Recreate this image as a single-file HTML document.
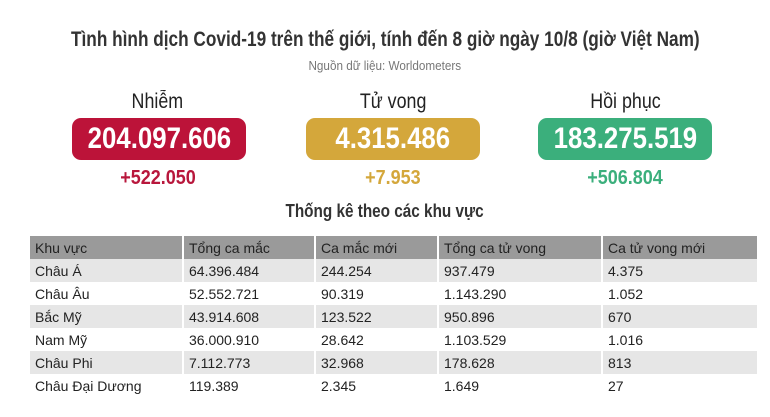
<!DOCTYPE html>
<html><head><meta charset="utf-8"><style>
body{margin:0;width:770px;height:417px;background:#fff;font-family:"Liberation Sans",sans-serif;color:#333;position:relative;overflow:hidden}
.a{position:absolute;white-space:nowrap;text-align:center}
.t{left:0;width:770px}
.s{display:inline-block}
.box{position:absolute;top:118px;height:42px;border-radius:9px;color:#fff;font-weight:bold;font-size:30px;line-height:42px;text-align:center}
table{position:absolute;left:30px;top:236px;width:727px;border-collapse:collapse;font-size:14px}
td{height:23px;padding:0 0 0 5px;border-left:2px solid #fff;color:#222}
td:first-child{border-left:none}
tr.h td{background:#9a9a9a;color:#222}
tr.g td{background:#e6e6e6}
</style></head><body>
<div class="a t" style="top:28px;font-size:21px;font-weight:bold;color:#333"><span class="s" style="transform:scaleX(0.82)">Tình hình dịch Covid-19 trên thế giới, tính đến 8 giờ ngày 10/8 (giờ Việt Nam)</span></div>
<div class="a t" style="top:58px;font-size:13px;color:#777"><span class="s" style="transform:scaleX(0.9)">Nguồn dữ liệu: Worldometers</span></div>
<div class="a" style="left:70px;width:175px;top:90px;font-size:21px;color:#222"><span class="s" style="transform:scaleX(0.85)">Nhiễm</span></div>
<div class="a" style="left:306px;width:174px;top:90px;font-size:21px;color:#222"><span class="s" style="transform:scaleX(0.85)">Tử vong</span></div>
<div class="a" style="left:538px;width:174px;top:90px;font-size:21px;color:#222"><span class="s" style="transform:scaleX(0.85)">Hồi phục</span></div>
<div class="box" style="left:72px;width:174px;background:#bc1339"><span class="s" style="transform:scaleX(0.86)">204.097.606</span></div>
<div class="box" style="left:306px;width:174px;background:#d4a73b"><span class="s" style="transform:scaleX(0.86)">4.315.486</span></div>
<div class="box" style="left:538px;width:174px;background:#3baf7c"><span class="s" style="transform:scaleX(0.86)">183.275.519</span></div>
<div class="a" style="left:70px;width:175px;top:167px;font-size:20px;font-weight:bold;color:#b8173c"><span class="s" style="transform:scaleX(0.9)">+522.050</span></div>
<div class="a" style="left:306px;width:174px;top:167px;font-size:20px;font-weight:bold;color:#d4a73b"><span class="s" style="transform:scaleX(0.9)">+7.953</span></div>
<div class="a" style="left:538px;width:174px;top:167px;font-size:20px;font-weight:bold;color:#3baf7c"><span class="s" style="transform:scaleX(0.9)">+506.804</span></div>
<div class="a t" style="top:201px;font-size:18px;font-weight:bold;color:#333"><span class="s" style="transform:scaleX(0.85)">Thống kê theo các khu vực</span></div>
<table>
<colgroup><col style="width:153px"><col style="width:132px"><col style="width:123px"><col style="width:164px"><col></colgroup>
<tr class="h"><td>Khu vực</td><td>Tổng ca mắc</td><td>Ca mắc mới</td><td>Tổng ca tử vong</td><td>Ca tử vong mới</td></tr>
<tr class="g"><td>Châu Á</td><td>64.396.484</td><td>244.254</td><td>937.479</td><td>4.375</td></tr>
<tr><td>Châu Âu</td><td>52.552.721</td><td>90.319</td><td>1.143.290</td><td>1.052</td></tr>
<tr class="g"><td>Bắc Mỹ</td><td>43.914.608</td><td>123.522</td><td>950.896</td><td>670</td></tr>
<tr><td>Nam Mỹ</td><td>36.000.910</td><td>28.642</td><td>1.103.529</td><td>1.016</td></tr>
<tr class="g"><td>Châu Phi</td><td>7.112.773</td><td>32.968</td><td>178.628</td><td>813</td></tr>
<tr><td>Châu Đại Dương</td><td>119.389</td><td>2.345</td><td>1.649</td><td>27</td></tr>
</table>
</body></html>
